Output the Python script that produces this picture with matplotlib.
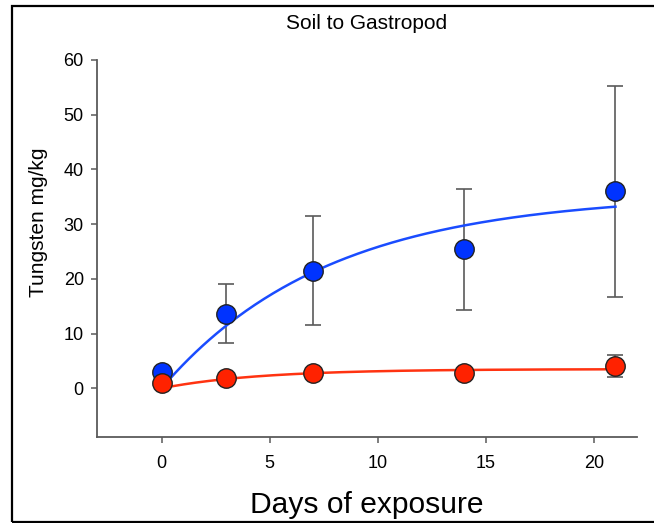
import numpy as np
import matplotlib
matplotlib.use("Agg")
import matplotlib.pyplot as plt
from matplotlib.patches import Rectangle

plt.rcParams['font.family'] = ['Liberation Sans', 'DejaVu Sans']

# measured data (mean with lower / upper error)
days = [0, 3, 7, 14, 21]
gastropod = [2.9, 13.6, 21.5, 25.4, 36.0]
gastropod_lo = [2.9, 8.2, 11.6, 14.3, 16.7]
gastropod_hi = [2.9, 19.0, 31.5, 36.4, 55.3]
soil = [0.9, 1.8, 2.8, 2.7, 4.0]
soil_lo = [0.9, 1.8, 2.8, 2.7, 2.1]
soil_hi = [0.9, 1.8, 2.8, 2.7, 6.0]

# fitted uptake curves y = a * (1 - exp(-k t))
blue_fit = (35.5, 0.13)
red_fit = (3.5, 0.22)

x_ticks = [0, 5, 10, 15, 20]
y_ticks = [0, 10, 20, 30, 40, 50, 60]

BLUE = '#0033ff'
RED = '#ff2200'
GRAY = '#5a5a5a'

fig = plt.figure(figsize=(6.54, 5.23), dpi=100)
ax = fig.add_axes([0.1479, 0.1635, 0.8262, 0.7218])

t = np.linspace(0, 21, 200)
for (a, k), c in [(blue_fit, '#1a4cff'), (red_fit, '#ff3311')]:
    ax.plot(t, a * (1 - np.exp(-k * t)), color=c, lw=1.8, zorder=2)

def errs(vals, lo, hi):
    return [np.array(vals) - np.array(lo), np.array(hi) - np.array(vals)]

for vals, lo, hi, c in [(gastropod, gastropod_lo, gastropod_hi, BLUE),
                        (soil, soil_lo, soil_hi, RED)]:
    ax.errorbar(days, vals, yerr=errs(vals, lo, hi), fmt='none',
                ecolor=GRAY, elinewidth=1.2, capsize=5.5, capthick=1.2, zorder=1)
    ax.plot(days, vals, 'o', ms=14, mfc=c, mec='#222222', mew=1.0, zorder=3)

ax.set_xlim(-3, 22)
ax.set_ylim(-9, 60)
ax.set_xticks(x_ticks)
ax.set_yticks(y_ticks)
ax.tick_params(direction='out', length=4.3, width=1.1, color=GRAY, labelsize=13, pad=5)
ax.tick_params(axis='x', pad=8)
for s in ['top', 'right']:
    ax.spines[s].set_visible(False)
for s in ['left', 'bottom']:
    ax.spines[s].set_color(GRAY)
    ax.spines[s].set_linewidth(1.3)

fig.text(39 / 654, 1 - 222 / 523, 'Tungsten mg/kg', rotation=90,
         ha='center', va='center', fontsize=15)
fig.text(367 / 654, 1 - 29 / 523, 'Soil to Gastropod', ha='center', va='baseline', fontsize=15)
fig.text(367 / 654, 1 - 513 / 523, 'Days of exposure', ha='center', va='baseline', fontsize=21.6)

# outer frame
fig.patches.append(Rectangle((12 / 654, 1.5 / 523), 1.0, 515.5 / 523, transform=fig.transFigure,
                             fill=False, ec='black', lw=1.6, zorder=10))

fig.savefig('out.png', dpi=100)
